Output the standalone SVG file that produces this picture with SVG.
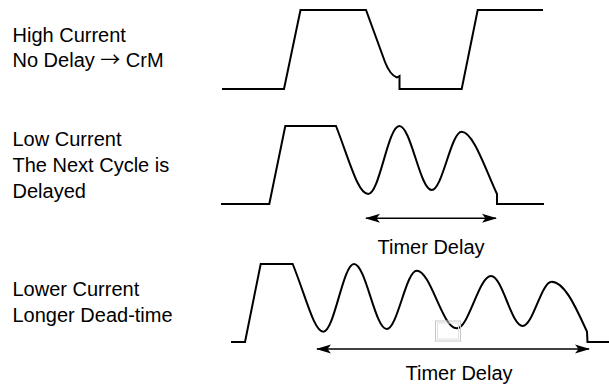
<svg xmlns="http://www.w3.org/2000/svg" width="609" height="386" viewBox="0 0 609 386">
<style>
.lbl{font-family:"Liberation Sans",Arial,sans-serif;font-size:20px;fill:#000}
.sym{font-family:"Noto Sans CJK SC","DejaVu Sans",sans-serif}
.wave{fill:none;stroke:#000;stroke-width:2;stroke-linejoin:miter}
.arr{fill:none;stroke:#000;stroke-width:1.5}
</style>
<defs>
<marker id="ah" viewBox="0 0 15 10" refX="14" refY="5" markerWidth="15" markerHeight="10" markerUnits="userSpaceOnUse" orient="auto-start-reverse">
<path d="M0,0.5 L15,5 L0,9.5 L3.5,5 Z" fill="#000"/>
</marker>
</defs>
<rect width="609" height="386" fill="#fff"/>
<g id="label-high">
<text class="lbl" x="12.5" y="42">High Current</text>
<text class="lbl" x="12.5" y="67">No Delay <tspan class="sym">→</tspan> CrM</text>
</g>
<g id="label-low">
<text class="lbl" x="12.5" y="146">Low Current</text>
<text class="lbl" x="12.5" y="172">The Next Cycle is</text>
<text class="lbl" x="12.5" y="198">Delayed</text>
</g>
<g id="label-lower">
<text class="lbl" x="12.5" y="296">Lower Current</text>
<text class="lbl" x="12.5" y="322">Longer Dead-time</text>
</g>
<g id="wave-high">
<path class="wave" d="M222,89 L284,89 L300.5,10 L366,10 L385,62 Q390,75 397,77.5 L399.5,76 L399.5,89 L461.7,89 L477.7,10 L543,10"/>
</g>
<g id="wave-low">
<path class="wave" d="M221,204 L269.3,204 L285.3,126 L336,126 C350,162 358,194 368.3,194 C379.5,194 388,126 399.3,126 C411,126 420,190 431.7,190 C442.5,190 451,131.7 461.7,131.7 C473,131.7 485,168 497,194 L497,204 L544,204"/>
</g>
<g id="wave-lower">
<path class="wave" d="M231,342 L245,342 L260.7,264 L292.7,264 C306,297 314,331.7 323.3,331.7 C334.3,331.7 343,264 354,264 C365.8,264 375,329 386.7,329 C397.5,329 406,270.7 416.7,270.7 C431,270.7 442,328.3 456.7,328.3 C469,328.3 478.7,276 491,276 C502.4,276 511.3,326 522.7,326 C533,326 541.3,281.7 551.7,281.7 C565,281.7 577,310 587,331.7 L587.5,342 L609,342"/>
</g>
<g id="artifact">
<rect x="435.5" y="321" width="25" height="20" fill="none" stroke="#c8c8c8" stroke-width="1"/>
<rect x="437.5" y="323" width="21" height="16" fill="none" stroke="#e0e0e0" stroke-width="1"/>
</g>
<g id="connectors">
<line class="arr" x1="366" y1="218.3" x2="496" y2="218.3" marker-start="url(#ah)" marker-end="url(#ah)"/>
<line class="arr" x1="317" y1="349" x2="589" y2="349" marker-start="url(#ah)" marker-end="url(#ah)"/>
</g>
<g id="timer-labels">
<text class="lbl" x="431" y="254" text-anchor="middle">Timer Delay</text>
<text class="lbl" x="459" y="380" text-anchor="middle">Timer Delay</text>
</g>
</svg>
